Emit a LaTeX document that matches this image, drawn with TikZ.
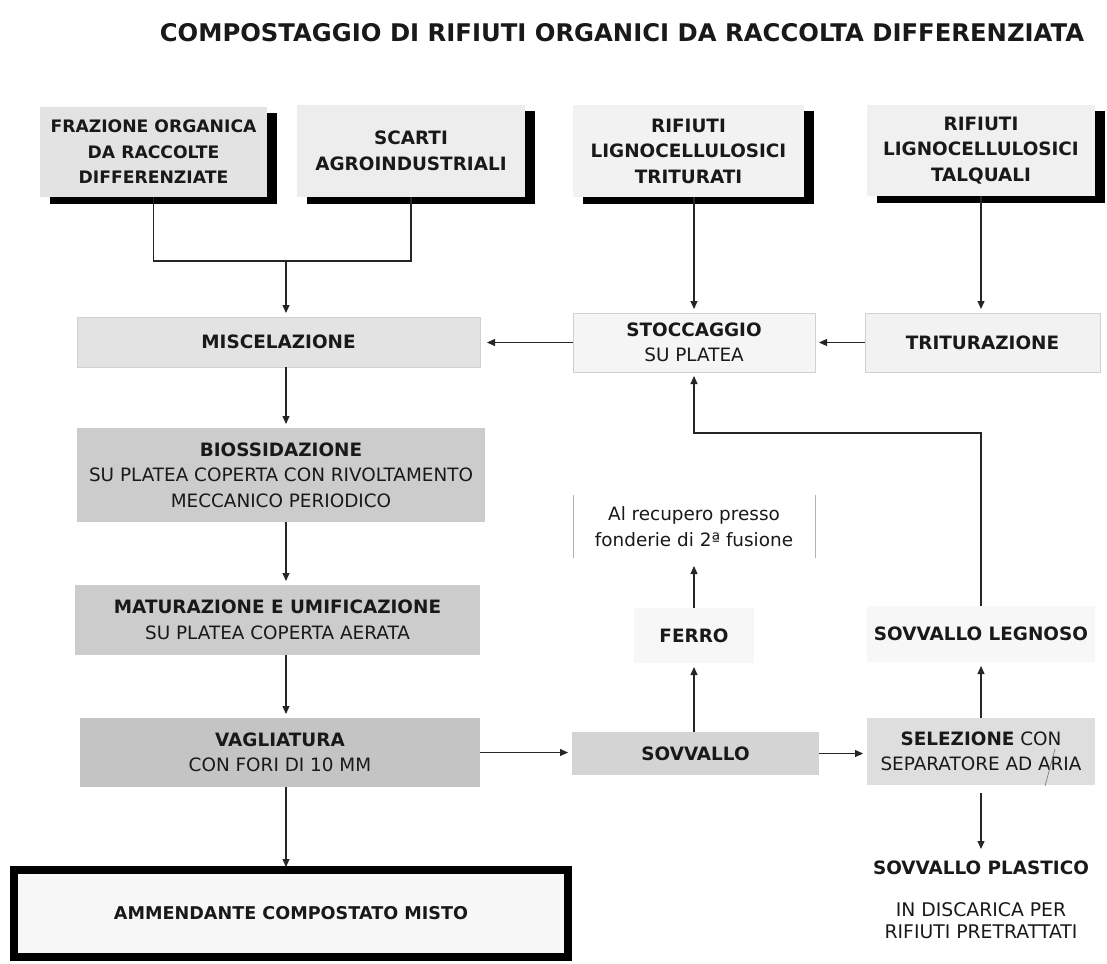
\documentclass[tikz,border=0pt]{standalone}
\usepackage{fontspec}
\setmainfont{DejaVu Sans}
\usetikzlibrary{arrows.meta,shadows}
\begin{document}
\begin{tikzpicture}[x=1pt,y=-1pt,
  base/.style={inner sep=0pt, outer sep=0pt, align=center, text=black!90,
    font=\fontsize{18.4}{25.5}\selectfont},
  topbox/.style={base, font=\bfseries\fontsize{18.4}{25.5}\selectfont,
    drop shadow={shadow xshift=9.5pt, shadow yshift=-6.5pt, fill=black, opacity=1}},
  procbox/.style={base},
  faint/.style={draw=black!18, line width=0.5pt},
  conn/.style={line width=1.1pt, draw=black!85},
  arr/.style={conn, -{Triangle[length=8pt,width=7pt]}, shorten >=4pt},
]
\useasboundingbox (0,0) rectangle (1107,963);

% title
\node[font=\bfseries\fontsize{24.3}{28}\selectfont, text=black!90] (title) at (622,33)
  {COMPOSTAGGIO DI RIFIUTI ORGANICI DA RACCOLTA DIFFERENZIATA};

% top boxes
\node[topbox, font=\bfseries\fontsize{17.2}{25.5}\selectfont, fill=black!11,
  minimum width=227pt, minimum height=90pt] (fraz) at (153.5,152)
  {FRAZIONE ORGANICA\\DA RACCOLTE\\DIFFERENZIATE};
\node[topbox, fill=black!7, minimum width=228pt, minimum height=92pt] (scarti) at (411,151)
  {SCARTI\\AGROINDUSTRIALI};
\node[topbox, fill=black!5, minimum width=231pt, minimum height=92pt] (ligtrit) at (688.5,151)
  {RIFIUTI\\LIGNOCELLULOSICI\\TRITURATI};
\node[topbox, fill=black!6, minimum width=228pt, minimum height=91pt] (ligtal) at (981,150.5)
  {RIFIUTI\\LIGNOCELLULOSICI\\TALQUALI};

% second row
\node[procbox, faint, fill=black!11, minimum width=403pt, minimum height=50pt] (misc) at (278.5,342)
  {\bfseries MISCELAZIONE};
\node[procbox, faint, fill=black!4, minimum width=242pt, minimum height=59pt] (stocc) at (694,342.5)
  {\bfseries STOCCAGGIO\\SU PLATEA};
\node[procbox, faint, fill=black!5, minimum width=235pt, minimum height=59pt] (trit) at (982.5,342.5)
  {\bfseries TRITURAZIONE};

% left column
\node[procbox, fill=black!20, minimum width=408pt, minimum height=94pt] (bios) at (281,475)
  {\textbf{BIOSSIDAZIONE}\\SU PLATEA COPERTA CON RIVOLTAMENTO\\MECCANICO PERIODICO};
\node[procbox, fill=black!20, minimum width=405pt, minimum height=70pt] (matur) at (277.5,620)
  {\textbf{MATURAZIONE E UMIFICAZIONE}\\SU PLATEA COPERTA AERATA};
\node[procbox, fill=black!23, minimum width=400pt, minimum height=69pt] (vagl) at (280,752.5)
  {\textbf{VAGLIATURA}\\CON FORI DI 10 MM};
\node[procbox, font=\fontsize{17.6}{25.5}\selectfont, draw=black, line width=8pt, fill=black!3,
  minimum width=554pt, minimum height=87pt] (amm) at (291,913.5)
  {\bfseries AMMENDANTE COMPOSTATO MISTO};

% middle column
\node[procbox, minimum width=242pt, minimum height=63pt] (recup) at (694,526.5)
  {Al recupero presso\\fonderie di 2ª fusione};
\node[procbox, fill=black!3, minimum width=120pt, minimum height=55pt] (ferro) at (694,635.5)
  {\bfseries FERRO};
\node[procbox, fill=black!17, minimum width=247pt, minimum height=43pt] (sovv) at (695.5,753.5)
  {\bfseries SOVVALLO};

% right column
\node[procbox, fill=black!3, minimum width=228pt, minimum height=56pt] (legn) at (981,634)
  {\bfseries SOVVALLO LEGNOSO};
\node[procbox, fill=black!13, minimum width=228pt, minimum height=67pt] (selez) at (981,751.5)
  {\textbf{SELEZIONE} CON\\SEPARATORE AD ARIA};
\node[procbox, minimum width=228pt, minimum height=30pt] (plast) at (981,868)
  {\bfseries SOVVALLO PLASTICO};
\node[procbox, font=\fontsize{18.8}{22}\selectfont] (disc) at (981,921)
  {IN DISCARICA PER\\RIFIUTI PRETRATTATI};

% helper coordinates
\coordinate (colL) at (286,0);
\coordinate (join) at (286,261);
\coordinate (turn) at (981,433);

% thin side lines of the recovery box
\draw[black!30, line width=0.6pt] (recup.north west) -- (recup.south west)
  (recup.north east) -- (recup.south east);

% connectors
\draw[conn] (fraz.south) |- (join) -| (scarti.south);
\draw[arr] (join) -- (misc.north -| join);
\draw[arr] (stocc.north |- ligtrit.south) -- (stocc.north);
\draw[arr] (ligtal.south) -- (ligtal.south |- trit.north);
\draw[arr] (trit.west) -- (trit.west -| stocc.east);
\draw[arr, shorten >=7pt] (stocc.west) -- (stocc.west -| misc.east);
\draw[arr] (misc.south -| colL) -- (bios.north -| colL);
\draw[arr] (bios.south -| colL) -- (matur.north -| colL);
\draw[arr] (matur.south -| colL) -- (vagl.north -| colL);
\draw[arr, shorten >=3pt] (vagl.south -| colL) -- (amm.north -| colL);
\draw[arr] (vagl.east) -- (vagl.east -| sovv.west);
\draw[arr] (ferro.south |- sovv.north) -- (ferro.south);
\draw[arr, shorten >=8pt] (ferro.north) -- (recup.south);
\draw[arr] (sovv.east) -- (sovv.east -| selez.west);
\draw[arr] (selez.north) -- (legn.south);
\draw[arr] (legn.north) -- (turn) -| (stocc.south);
\draw[arr, shorten <=8pt] (selez.south) -- (plast.north);

% stray pen mark over ARIA
\draw[black!55, line width=0.6pt] (1055,749) -- (1045,786);
\end{tikzpicture}
\end{document}
